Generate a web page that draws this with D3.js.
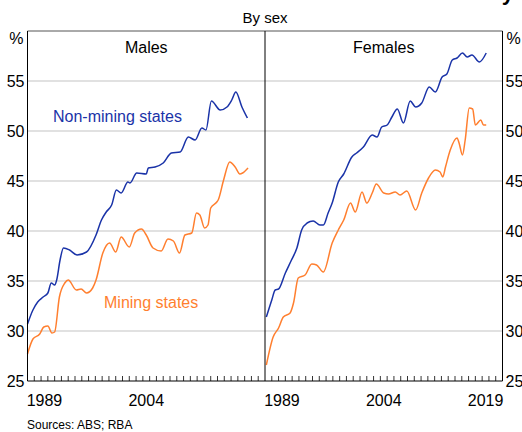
<!DOCTYPE html>
<html>
<head>
<meta charset="utf-8">
<script src="https://cdn.jsdelivr.net/npm/d3@7"></script>
<style>
  body { margin: 0; background: #fff; }
  svg text { font-family: Arial, "Liberation Sans", sans-serif; fill: #000; }
</style>
</head>
<body>
<div id="chart"></div>
<script>
// data: [year, per cent]
var maleNonMining = [
  [1987.0, 30.7], [1987.8, 32.1], [1988.5, 32.9], [1989.3, 33.4], [1990.0, 33.8],
  [1990.5, 34.8], [1991.0, 34.6], [1991.3, 35.1], [1991.8, 37.1], [1992.3, 38.3],
  [1993.2, 38.1], [1994.3, 37.6], [1995.7, 37.9], [1997.1, 39.6], [1997.9, 41.1],
  [1998.6, 41.9], [1999.4, 42.6], [2000.1, 44.1], [2000.8, 43.8], [2001.8, 44.9],
  [2002.1, 44.8], [2003.1, 45.8], [2004.5, 45.7], [2004.8, 46.3], [2005.8, 46.4],
  [2007.0, 46.8], [2008.2, 47.8], [2009.5, 47.9], [2010.7, 49.4], [2011.7, 49.1],
  [2012.7, 50.3], [2013.3, 50.1], [2014.1, 53.0], [2015.4, 52.1], [2016.4, 52.4],
  [2017.1, 53.1], [2017.7, 53.9], [2018.6, 52.4], [2019.4, 51.3]
];
var maleMining = [
  [1987.0, 27.7], [1987.8, 29.2], [1988.8, 29.7], [1989.4, 30.4], [1990.0, 30.5],
  [1990.6, 29.8], [1991.0, 29.9], [1991.7, 33.4], [1992.5, 34.8], [1993.0, 35.1],
  [1994.2, 34.1], [1994.9, 34.2], [1995.7, 33.8], [1996.6, 34.3], [1997.1, 35.1],
  [1998.1, 37.8], [1999.1, 38.8], [2000.0, 37.9], [2000.8, 39.4], [2002.0, 38.4],
  [2002.8, 39.8], [2003.8, 40.2], [2004.5, 39.6], [2005.5, 38.3], [2006.7, 38.0],
  [2007.7, 39.2], [2008.5, 39.0], [2009.4, 37.8], [2010.2, 39.6], [2011.2, 39.8],
  [2011.9, 41.8], [2012.4, 41.6], [2013.1, 40.3], [2013.6, 40.6], [2014.0, 42.3],
  [2014.9, 42.9], [2015.1, 43.1], [2015.9, 45.1], [2016.8, 46.9], [2017.6, 46.4],
  [2018.3, 45.7], [2018.7, 45.8], [2019.5, 46.3]
];
var femaleNonMining = [
  [1987.2, 31.4], [1988.0, 33.1], [1988.5, 34.1], [1989.0, 34.2], [1990.0, 35.8],
  [1990.9, 37.1], [1991.7, 38.3], [1992.4, 40.1], [1993.2, 40.8], [1994.1, 41.0],
  [1995.1, 40.6], [1995.6, 40.6], [1996.3, 41.8], [1996.9, 42.8], [1997.8, 44.9],
  [1998.6, 45.7], [1999.8, 47.4], [2000.5, 47.8], [2001.5, 48.4], [2002.8, 49.6],
  [2003.5, 49.4], [2004.2, 50.4], [2005.0, 50.6], [2005.7, 51.4], [2006.5, 52.2],
  [2007.4, 50.8], [2008.4, 53.0], [2009.2, 52.4], [2010.1, 52.8], [2011.2, 54.4],
  [2012.1, 53.9], [2013.1, 55.4], [2013.8, 55.7], [2014.6, 57.1], [2015.3, 57.3],
  [2016.1, 57.8], [2016.8, 57.4], [2017.5, 57.6], [2018.6, 56.9], [2019.6, 57.8]
];
var femaleMining = [
  [1987.2, 26.6], [1988.2, 29.4], [1989.0, 30.3], [1989.7, 31.4], [1990.7, 31.8],
  [1991.2, 32.8], [1991.9, 35.3], [1992.9, 35.6], [1993.9, 36.7], [1994.6, 36.6],
  [1995.6, 35.9], [1996.9, 38.8], [1997.8, 40.1], [1998.6, 41.1], [1999.6, 42.8],
  [2000.3, 41.9], [2001.3, 43.9], [2002.0, 42.8], [2002.8, 43.8], [2003.4, 44.7],
  [2004.5, 43.8], [2005.2, 43.7], [2006.2, 43.9], [2006.9, 43.6], [2007.9, 44.0],
  [2009.2, 42.1], [2010.1, 43.8], [2011.1, 45.3], [2012.1, 46.1], [2012.8, 45.9],
  [2013.2, 45.4], [2013.6, 46.4], [2014.3, 48.1], [2015.3, 49.3], [2015.6, 48.8],
  [2016.1, 47.6], [2016.5, 49.1], [2017.1, 52.3], [2017.6, 52.2], [2018.0, 50.6],
  [2018.8, 51.1], [2019.2, 50.6], [2019.6, 50.6]
];
var yTicks = [25, 30, 35, 40, 45, 50, 55];
var leftYearLabels = [1989, 2004];
var rightYearLabels = [1989, 2004, 2019];

var blue = "#1a33a8", orange = "#ff7f2f";

var W = 522, H = 432;
var plotTop = 31, plotBottom = 381, plotLeft = 27.5, plotMid = 265, plotRight = 502.5;

var svg = d3.select("#chart").append("svg")
    .attr("width", W)
    .attr("height", H);

// title, mostly cut off by the top edge
svg.append("text")
    .attr("x", 514).attr("y", 0)
    .attr("text-anchor", "end")
    .style("font-size", "22px").style("font-weight", "bold")
    .text("Share of Workers with Post-school Study");

svg.append("text")
    .attr("x", 265).attr("y", 23)
    .attr("text-anchor", "middle")
    .style("font-size", "15px")
    .text("By sex");

var y = d3.scaleLinear().domain([25, 60]).range([plotBottom, plotTop]);

// horizontal grid
svg.append("g").selectAll("line")
  .data(yTicks.slice(1))
  .join("line")
    .attr("x1", plotLeft).attr("x2", plotRight)
    .attr("y1", d => y(d)).attr("y2", d => y(d))
    .attr("stroke", "#c4c4c4").attr("stroke-width", 1.2);

// y labels on both sides
svg.append("g").selectAll("text")
  .data(yTicks)
  .join("text")
    .attr("x", plotLeft - 3).attr("y", d => y(d))
    .attr("dy", "0.36em").attr("text-anchor", "end")
    .style("font-size", "16px")
    .text(d => d);
svg.append("g").selectAll("text")
  .data(yTicks)
  .join("text")
    .attr("x", plotRight + 3).attr("y", d => y(d))
    .attr("dy", "0.36em")
    .style("font-size", "16px")
    .text(d => d);
svg.append("text").attr("x", plotLeft - 4).attr("y", 44)
    .attr("text-anchor", "end").style("font-size", "16px").text("%");
svg.append("text").attr("x", plotRight + 4).attr("y", 44)
    .style("font-size", "16px").text("%");

var panels = [
  { name: "Males", x0: plotLeft, x1: plotMid, nonMining: maleNonMining, mining: maleMining, labels: leftYearLabels },
  { name: "Females", x0: plotMid, x1: plotRight, nonMining: femaleNonMining, mining: femaleMining, labels: rightYearLabels }
];

panels.forEach(function(p) {
  var x = d3.scaleLinear().domain([1987, 2022]).range([p.x0, p.x1]);
  var g = svg.append("g");

  // year ticks on the bottom axis
  g.selectAll("line.tick")
    .data(d3.range(1988, 2022))
    .join("line")
      .attr("class", "tick")
      .attr("x1", d => x(d)).attr("x2", d => x(d))
      .attr("y1", plotBottom).attr("y2", plotBottom - 5)
      .attr("stroke", "#000").attr("stroke-width", 0.8);

  // labels centred in the year
  g.selectAll("text.year")
    .data(p.labels)
    .join("text")
      .attr("class", "year")
      .attr("x", d => x(d + 0.5)).attr("y", 406)
      .attr("text-anchor", "middle")
      .style("font-size", "16px")
      .text(d => d);

  var line = d3.line()
    .x(d => x(d[0]))
    .y(d => y(d[1]))
    .curve(d3.curveMonotoneX);

  g.append("path")
    .datum(p.mining)
    .attr("fill", "none").attr("stroke", orange).attr("stroke-width", 1.5)
    .attr("d", line);
  g.append("path")
    .datum(p.nonMining)
    .attr("fill", "none").attr("stroke", blue).attr("stroke-width", 1.5)
    .attr("d", line);

  g.append("text")
    .attr("x", (p.x0 + p.x1) / 2).attr("y", 53)
    .attr("text-anchor", "middle")
    .style("font-size", "16px")
    .text(p.name);
});

// frame
svg.append("line").attr("x1", plotLeft).attr("x2", plotRight).attr("y1", plotTop).attr("y2", plotTop)
    .attr("stroke", "#555").attr("stroke-width", 1);
svg.append("line").attr("x1", plotLeft).attr("x2", plotRight).attr("y1", plotBottom).attr("y2", plotBottom)
    .attr("stroke", "#000").attr("stroke-width", 1.2);
[plotLeft, plotMid, plotRight].forEach(function(xv) {
  svg.append("line").attr("x1", xv).attr("x2", xv).attr("y1", plotTop).attr("y2", plotBottom)
      .attr("stroke", "#000").attr("stroke-width", 1);
});

// series labels
svg.append("text").attr("x", 53).attr("y", 122)
    .style("font-size", "16px").style("fill", blue)
    .text("Non-mining states");
svg.append("text").attr("x", 104).attr("y", 308)
    .style("font-size", "16px").style("fill", orange)
    .text("Mining states");

svg.append("text").attr("x", 27).attr("y", 429)
    .style("font-size", "12px")
    .text("Sources: ABS; RBA");
</script>
</body>
</html>
